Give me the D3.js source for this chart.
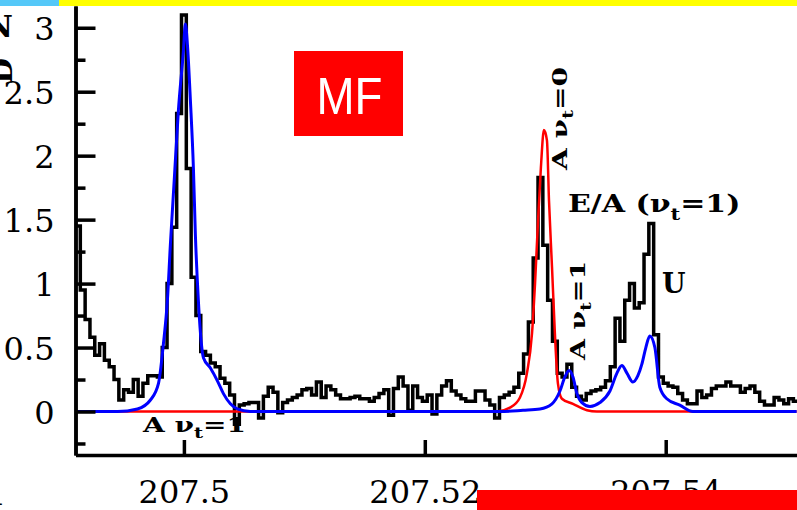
<!DOCTYPE html>
<html>
<head>
<meta charset="utf-8">
<script src="https://cdn.jsdelivr.net/npm/d3@7"></script>
<style>
  body { margin: 0; background: #fff; }
  svg { display: block; }
</style>
</head>
<body>
<script>
const chanStart = 207.4910;
const chanWidth = 0.0004;
const spectrum = [
  1.45, 0.95, 0.72, 0.58, 0.44, 0.53, 0.40, 0.35, 0.25, 0.09,
  0.17, 0.15, 0.25, 0.12, 0.22, 0.28, 0.28, 0.27, 0.50, 1.00,
  1.44, 2.33, 3.10, 1.90, 1.05, 0.75, 0.47, 0.44, 0.38, 0.35,
  0.26, 0.22, 0.13, -0.10, 0.05, 0.06, 0.07, 0.07, -0.05, 0.12,
  0.19, 0.15, -0.01, 0.07, 0.09, 0.11, 0.13, 0.17, 0.18, 0.13,
  0.23, 0.11, 0.20, 0.17, 0.13, 0.10, 0.10, 0.11, 0.12, 0.10,
  0.10, 0.08, 0.11, 0.14, 0.17, -0.03, 0.18, 0.27, 0.20, 0.01,
  0.20, 0.11, 0.08, 0.13, -0.02, 0.13, 0.20, 0.24, 0.16, 0.13,
  0.10, 0.08, 0.08, 0.16, 0.16, 0.09, 0.05, -0.05, 0.11, 0.13,
  0.15, 0.19, 0.30, 0.45, 0.70, 1.20, 1.83, 1.30, 0.87, 0.55,
  0.30, 0.27, 0.37, 0.19, 0.12, 0.09, 0.14, 0.16, 0.17, 0.19,
  0.24, 0.35, 0.73, 0.55, 0.87, 1.00, 0.81, 0.85, 1.23, 1.47,
  0.60, 0.27, 0.22, 0.20, 0.19, 0.14, 0.09, 0.06, 0.06, 0.16,
  0.11, 0.13, 0.18, 0.20, 0.20, 0.23, 0.20, 0.20, 0.15, 0.18,
  0.20, 0.15, 0.08, 0.05, 0.05, 0.11, 0.09, 0.06, 0.10, 0.08
];

// blue model curve [freq, value]
const blueFit = [
  [207.4910, 0], [207.49449, 0], [207.49614, 0.02], [207.49722, 0.09],
  [207.49789, 0.22], [207.4983, 0.53], [207.49863, 0.87], [207.49888, 1.31],
  [207.49921, 1.83], [207.49954, 2.35], [207.49996, 2.82], [207.50012, 3.03],
  [207.50029, 2.87], [207.50054, 2.43], [207.50079, 1.9], [207.50095, 1.39],
  [207.5012, 0.87], [207.50145, 0.53], [207.50162, 0.42], [207.5022, 0.34],
  [207.50278, 0.24], [207.50328, 0.14], [207.50386, 0.06], [207.50444, 0.02],
  [207.50551, 0], [207.52624, 0], [207.52815, 0.01], [207.52956, 0.02],
  [207.53056, 0.06], [207.53122, 0.16], [207.53163, 0.27], [207.53197, 0.32],
  [207.5323, 0.27], [207.53263, 0.14], [207.53304, 0.07], [207.53371, 0.04],
  [207.53454, 0.07], [207.53537, 0.16], [207.53595, 0.3], [207.53636, 0.36],
  [207.53678, 0.3], [207.53727, 0.23], [207.53769, 0.28], [207.53802, 0.37],
  [207.53835, 0.5], [207.53868, 0.59], [207.5391, 0.5], [207.53951, 0.19],
  [207.54009, 0.1], [207.54117, 0.05], [207.54225, 0], [207.55087, 0]
];

// red model curve [freq, value]
const redFit = [
  [207.4910, 0], [207.52600, 0], [207.52707, 0.03], [207.5279, 0.11], [207.52848, 0.3],
  [207.5289, 0.61], [207.52915, 1.0], [207.52939, 1.47], [207.52964, 1.91],
  [207.52989, 2.2], [207.53014, 2.12], [207.53031, 1.65], [207.53056, 1.13],
  [207.5308, 0.61], [207.53105, 0.22], [207.53138, 0.1], [207.5323, 0.06],
  [207.53346, 0.01], [207.53429, 0], [207.55087, 0]
];

const yMajorTicks = [0, 0.5, 1, 1.5, 2, 2.5, 3];
const yTickLabels = ["0", "0.5", "1", "1.5", "2", "2.5", "3"];
const yMinorTicks = [-0.25, 0.25, 0.75, 1.25, 1.75, 2.25, 2.75];
const xTicks = [207.5, 207.52, 207.54];
const xTickLabels = ["207.5", "207.52", "207.54"];

const w = 797;
const h = 510;

const xScale = d3.scaleLinear().domain([207.4910, 207.5509]).range([75.5, 797]);
const yScale = d3.scaleLinear().domain([-0.34, 3.17]).range([455, 6]);

const svg = d3.select("body").append("svg").attr("width", w).attr("height", h);

svg.append("defs").append("clipPath").attr("id", "plot")
  .append("rect").attr("x", 75.5).attr("y", 6).attr("width", 721.5).attr("height", 449);

// spectrum + fits
const pts = spectrum.map((v, i) => [chanStart + i * chanWidth, v]);
pts.push([chanStart + spectrum.length * chanWidth, spectrum[spectrum.length - 1]]);

const stepLine = d3.line()
  .x((d) => xScale(d[0]))
  .y((d) => yScale(d[1]))
  .curve(d3.curveStepAfter);

const smoothLine = d3.line()
  .x((d) => xScale(d[0]))
  .y((d) => yScale(d[1]))
  .curve(d3.curveMonotoneX);

const plot = svg.append("g").attr("clip-path", "url(#plot)");

plot.append("path")
  .attr("d", stepLine(pts))
  .attr("fill", "none")
  .attr("stroke", "#000")
  .attr("stroke-width", 3.5);

plot.append("path")
  .attr("d", smoothLine(redFit))
  .attr("fill", "none")
  .attr("stroke", "#ff0000")
  .attr("stroke-width", 2.5);

plot.append("path")
  .attr("d", smoothLine(blueFit))
  .attr("fill", "none")
  .attr("stroke", "#0000ff")
  .attr("stroke-width", 3);

// axes
const yAxis = d3.axisLeft(yScale)
  .tickValues(yMajorTicks)
  .tickFormat((d, i) => yTickLabels[i])
  .tickSize(-20)
  .tickSizeOuter(0)
  .tickPadding(21);

const yMinor = d3.axisLeft(yScale)
  .tickValues(yMinorTicks)
  .tickFormat("")
  .tickSize(-10)
  .tickSizeOuter(0);

const xAxis = d3.axisBottom(xScale)
  .tickValues(xTicks)
  .tickFormat((d, i) => xTickLabels[i])
  .tickSize(-15)
  .tickSizeOuter(0)
  .tickPadding(25);

svg.append("g").attr("transform", "translate(75.5,0)").call(yMinor);
svg.append("g").attr("class", "y axis").attr("transform", "translate(75.5,0)").call(yAxis);
svg.append("g").attr("class", "x axis").attr("transform", "translate(0,455)").call(xAxis);

svg.selectAll(".domain, .tick line")
  .attr("stroke", "#000")
  .attr("stroke-width", 3.5);
svg.selectAll(".tick text")
  .attr("fill", "#000")
  .attr("font-family", "DejaVu Serif")
  .attr("font-size", 32);
svg.selectAll(".y.axis .tick text").attr("dy", "0.36em");

// line labels (glyphs stretched sideways like the plot's wide font)
function nuLabel(transform, prefix, sub, suffix, size) {
  const t = svg.append("text")
    .attr("transform", transform)
    .attr("font-family", "DejaVu Serif")
    .attr("font-weight", "bold")
    .attr("font-size", size);
  t.append("tspan").text(prefix + "\u03bd");
  t.append("tspan").attr("font-size", size * 0.7).attr("dy", size * 0.32).text(sub);
  t.append("tspan").attr("dy", -size * 0.32).text(suffix);
}

nuLabel("translate(143,432) scale(1.4,1)", "A ", "t", "=1", 20);
nuLabel("translate(567,170) rotate(-90) scale(1.4,1)", "A ", "t", "=0", 20);
nuLabel("translate(585,360) rotate(-90) scale(1.35,1)", "A ", "t", "=1", 20);
nuLabel("translate(568,212) scale(1.2,1)", "E/A (", "t", "=1)", 25);

svg.append("text")
  .attr("x", 662).attr("y", 293)
  .attr("font-family", "DejaVu Serif")
  .attr("font-weight", "bold")
  .attr("font-size", 27)
  .text("U");

// stray letters from the neighbouring panel
svg.append("text").attr("x", 13).attr("y", 37).attr("text-anchor", "end")
  .attr("font-family", "DejaVu Serif").attr("font-weight", "bold").attr("font-size", 30).text("N");
svg.append("text").attr("transform", "translate(12,84) rotate(-90)")
  .attr("font-family", "DejaVu Serif").attr("font-weight", "bold").attr("font-size", 30).text("D");
svg.append("text").attr("x", 6).attr("y", 505).attr("text-anchor", "end")
  .attr("font-family", "DejaVu Serif").attr("font-size", 30).text("1");

// MF badge
svg.append("rect").attr("x", 294).attr("y", 51).attr("width", 109).attr("height", 85).attr("fill", "#ff0000");
svg.append("text")
  .attr("x", 349.5).attr("y", 114)
  .attr("text-anchor", "middle")
  .attr("font-family", "Liberation Sans")
  .attr("font-size", 52)
  .attr("fill", "#fff")
  .attr("textLength", 66)
  .attr("lengthAdjust", "spacingAndGlyphs")
  .text("MF");

// slide decoration bars
svg.append("rect").attr("x", 0).attr("y", 0).attr("width", 59).attr("height", 6).attr("fill", "#55c8f8");
svg.append("rect").attr("x", 59).attr("y", 0).attr("width", 738).attr("height", 6).attr("fill", "#ffff00");
svg.append("rect").attr("x", 477).attr("y", 490).attr("width", 320).attr("height", 20).attr("fill", "#ff0000");
</script>
</body>
</html>
